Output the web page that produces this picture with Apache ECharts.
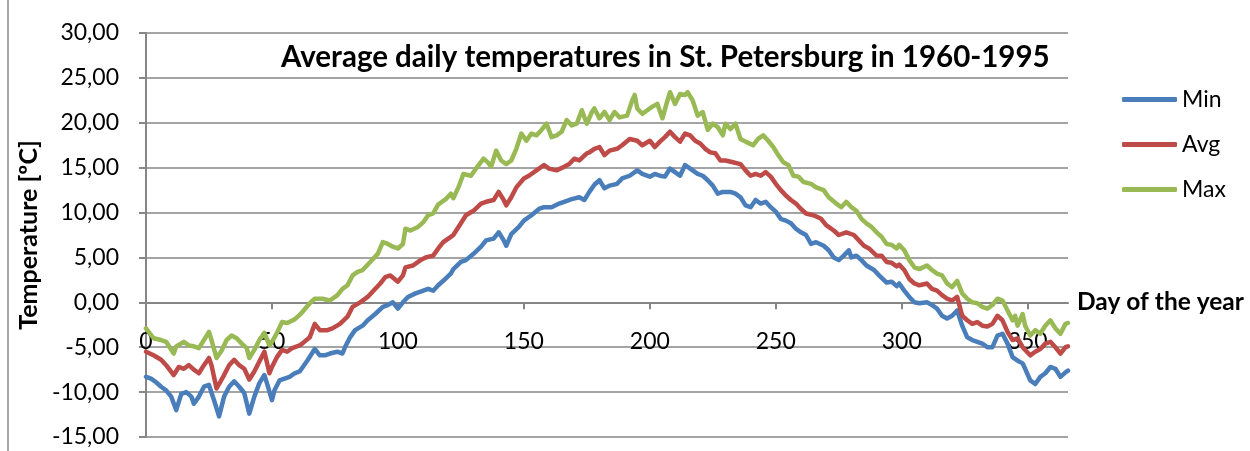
<!DOCTYPE html>
<html>
<head>
<meta charset="utf-8">
<title>Average daily temperatures in St. Petersburg</title>
<script src="https://cdn.jsdelivr.net/npm/echarts@6/dist/echarts.min.js"></script>
<style>
  html, body { margin: 0; padding: 0; background: #fff; }
  #chart { width: 1250px; height: 451px; }
</style>
</head>
<body>
<div id="chart"></div>
<script>
    "use strict";

    // [day, temperature]
    let minTemps = [[0,-8.3],[2,-8.5],[4,-8.9],[6,-9.4],[8,-9.8],[10,-10.5],[12,-12],[14,-10.2],[16,-10],[18,-10.5],[19,-11.3],[21,-10.5],[23,-9.4],[25,-9.2],[27,-10.9],[29,-12.7],[31,-10.5],[33,-9.4],[35,-8.8],[37,-9.4],[39,-10.1],[41,-12.4],[43,-10.5],[45,-9],[47,-8.1],[48,-9],[50,-10.9],[51,-9.8],[53,-8.7],[55,-8.5],[57,-8.3],[59,-7.9],[61,-7.7],[64,-6.5],[67,-5.2],[69,-5.9],[71,-5.9],[73,-5.7],[76,-5.5],[78,-5.7],[79,-5],[81,-3.9],[83,-3.1],[86,-2.6],[88,-2],[91,-1.3],[94,-0.5],[96,-0.3],[98,0],[100,-0.7],[102,0],[104,0.6],[107,1],[109,1.2],[112,1.5],[114,1.3],[116,1.9],[118,2.4],[121,3.2],[122,3.7],[125,4.5],[127,4.7],[130,5.4],[133,6.2],[135,6.9],[138,7.1],[140,7.8],[142,6.9],[143,6.3],[145,7.6],[148,8.4],[150,9.1],[153,9.7],[156,10.4],[158,10.6],[161,10.6],[164,11],[166,11.2],[169,11.5],[172,11.7],[174,11.4],[176,12.3],[178,13.1],[180,13.6],[182,12.7],[184,13],[187,13.2],[189,13.8],[192,14.1],[195,14.7],[197,14.3],[200,14],[202,14.3],[204,14.1],[206,14],[208,14.9],[210,14.5],[212,14.1],[214,15.3],[216,14.9],[219,14.3],[221,14.1],[223,13.6],[225,13],[227,12.1],[229,12.3],[232,12.3],[234,12.1],[236,11.7],[238,10.8],[240,10.6],[242,11.4],[244,11],[246,11.2],[248,10.6],[250,10.1],[252,9.3],[254,9.1],[256,8.8],[258,8.2],[260,7.8],[262,7.5],[264,6.5],[266,6.7],[269,6.3],[271,5.8],[273,5],[275,4.7],[277,5.2],[279,5.8],[280,5],[282,5.2],[284,4.7],[286,4.1],[289,3.6],[291,3],[294,2.2],[296,2.3],[298,1.8],[299,2.1],[301,1.3],[303,0.6],[305,0],[307,-0.1],[310,0],[312,-0.3],[314,-0.7],[316,-1.5],[318,-1.8],[320,-1.5],[322,-0.9],[324,-2.6],[326,-3.9],[328,-4.2],[330,-4.4],[332,-4.6],[334,-5],[336,-5],[338,-3.7],[340,-3.5],[342,-4.6],[344,-6.1],[346,-6.5],[348,-6.8],[349,-7.4],[351,-8.7],[353,-9.1],[355,-8.3],[357,-7.9],[359,-7.2],[361,-7.4],[363,-8.3],[365,-7.8],[366,-7.6]];

    let avgTemps = [[0,-5.5],[3,-5.9],[6,-6.4],[8,-7],[11,-8.1],[13,-7.2],[15,-7.4],[17,-7],[19,-7.5],[21,-7.9],[23,-7],[25,-6.2],[26,-7],[28,-9.6],[31,-8.1],[33,-7],[35,-6.4],[37,-7],[39,-7.4],[41,-8.6],[43,-7.7],[45,-6.6],[47,-5.5],[49,-7.9],[50,-7.2],[52,-6.1],[54,-5.3],[56,-5.5],[58,-5.1],[61,-4.8],[62,-4.6],[65,-3.9],[67,-2.4],[69,-3.1],[72,-3.1],[74,-2.9],[77,-2.4],[80,-1.6],[82,-0.5],[85,0],[88,0.6],[90,1.2],[93,2.1],[95,2.8],[97,3],[100,2.3],[102,3],[103,3.9],[106,4.1],[109,4.7],[111,5],[114,5.2],[116,6],[118,6.7],[121,7.3],[122,7.5],[125,8.8],[127,9.7],[130,10.2],[133,11],[135,11.2],[138,11.4],[140,12.3],[142,11.4],[143,10.8],[145,11.7],[147,12.8],[150,13.8],[152,14.1],[155,14.7],[158,15.3],[160,14.9],[163,14.7],[166,15.1],[168,15.4],[170,16],[172,15.8],[175,16.6],[176,16.7],[178,17.1],[180,17.3],[182,16.4],[184,16.9],[187,17.1],[189,17.5],[192,18.2],[195,18],[197,17.5],[200,18],[202,17.3],[204,17.9],[206,18.4],[208,19],[210,18.4],[212,17.9],[214,18.8],[216,18.6],[218,18],[220,17.7],[222,17.1],[224,16.7],[226,16.6],[228,15.8],[230,15.8],[233,15.6],[236,15.4],[238,14.7],[240,14.1],[242,14.3],[244,14.1],[246,14.5],[248,14],[250,13.2],[252,12.5],[254,11.9],[256,11.4],[258,11],[260,10.4],[262,9.9],[265,9.7],[268,9.3],[270,8.6],[273,8],[275,7.5],[278,7.8],[281,7.5],[283,6.9],[285,6.3],[287,6],[290,5.2],[292,5.2],[294,4.5],[296,4.4],[298,4],[299,4.2],[301,3.6],[303,2.6],[305,2.1],[307,1.9],[310,2.1],[312,1.5],[314,1.3],[316,0.8],[318,0.4],[320,0.2],[322,0.6],[324,-1.5],[326,-2],[328,-2.4],[330,-2.2],[332,-2.6],[334,-2.7],[336,-2.4],[338,-1.5],[340,-2],[342,-3.3],[344,-4.2],[346,-4],[348,-5],[349,-5.3],[351,-5.9],[353,-5.5],[355,-5.2],[357,-4.6],[359,-4.4],[361,-5],[363,-5.7],[365,-5],[366,-4.9]];

    let maxTemps = [[0,-2.9],[3,-4],[6,-4.2],[8,-4.4],[11,-5.7],[12,-4.9],[15,-4.4],[17,-4.8],[19,-4.9],[21,-5.1],[23,-4.2],[25,-3.3],[26,-4.2],[28,-6.2],[30,-5.4],[32,-4.2],[34,-3.7],[36,-4],[38,-4.6],[40,-5.1],[41,-6.2],[43,-5.3],[45,-4.2],[47,-3.4],[49,-4.8],[50,-4.4],[52,-3.4],[54,-2.2],[56,-2.3],[59,-1.9],[61,-1.4],[62,-1.1],[65,-0.1],[67,0.4],[70,0.4],[73,0.2],[76,0.8],[78,1.5],[80,1.9],[82,3],[84,3.4],[86,3.6],[89,4.5],[92,5.4],[94,6.7],[96,6.5],[98,6.2],[100,6],[102,6.5],[103,8.2],[105,8],[108,8.4],[110,8.9],[112,9.7],[114,9.9],[116,10.9],[119,11.5],[121,12.1],[122,11.6],[124,12.8],[126,14.3],[129,14.1],[131,14.9],[134,16],[136,15.5],[137,15.1],[139,16.9],[141,15.8],[143,15.4],[145,15.8],[147,17.1],[149,18.8],[151,18],[153,18.8],[155,18.6],[157,19.2],[159,19.9],[161,18.4],[163,18.6],[165,19],[167,20.3],[169,19.7],[171,19.9],[173,21.4],[175,19.9],[177,21.2],[178,21.6],[180,20.5],[182,21.2],[184,20.3],[186,21.2],[188,20.6],[191,20.8],[193,22.5],[194,23.1],[195,21.6],[197,21],[199,21.4],[201,21.8],[203,22.1],[205,20.5],[207,22.5],[208,23.4],[210,22.1],[212,23.2],[214,23.1],[215,23.4],[217,22.5],[219,20.8],[221,21.2],[223,19.2],[225,19.9],[227,19.5],[229,18.6],[230,19.9],[232,19.3],[234,19.9],[236,18.2],[238,17.9],[241,17.5],[243,18.2],[245,18.6],[247,18],[249,17.3],[251,16.4],[253,15.6],[255,15.3],[257,14.1],[259,14],[261,13.4],[264,13.2],[266,12.8],[269,12.5],[271,11.7],[274,11],[276,10.6],[278,11.2],[280,10.6],[282,10.2],[284,9.3],[286,8.8],[288,8.4],[290,7.8],[292,7.3],[294,6.5],[296,6.4],[298,6],[299,6.4],[301,5.8],[303,4.7],[305,3.9],[307,3.7],[310,4.1],[312,3.6],[314,3.2],[316,3],[318,2.1],[320,1.7],[322,2.4],[324,1],[326,0.4],[328,0],[330,-0.1],[332,-0.5],[334,-0.7],[336,-0.3],[338,0.4],[340,0.2],[342,-0.9],[344,-2],[345,-1.5],[346,-2.6],[348,-1.3],[349,-2.6],[351,-3.7],[353,-3.1],[355,-3.5],[357,-2.6],[359,-2],[361,-2.9],[363,-3.5],[365,-2.4],[366,-2.3]];

    let seriesNames = ['Min', 'Avg', 'Max'];
    let dayTicks = [0, 50, 100, 150, 200, 250, 300, 350];
    let tempMin = -15;
    let tempMax = 30;

    let axisGray = '#868686';
    let font = 'Lato';
    let gridTop = 33;
    let gridBottom = 14;
    let plotHeight = 451 - gridTop - gridBottom;
    // the x axis crosses at 0 °C, so lift it up from the bottom of the grid
    let zeroLift = plotHeight * (0 - tempMin) / (tempMax - tempMin);

    let chart = echarts.init(document.getElementById('chart'), null, {renderer: 'canvas'});

    function lineSeries(name, data, color) {
        return {
            name: name,
            type: 'line',
            data: data,
            showSymbol: false,
            color: color,
            lineStyle: {width: 4.5, color: color, cap: 'round', join: 'round'},
            emphasis: {disabled: true}
        };
    }

    chart.setOption({
        animation: false,
        textStyle: {fontFamily: font},
        title: {
            text: 'Average daily temperatures in St. Petersburg in 1960-1995',
            left: 276,
            top: 37,
            textStyle: {fontFamily: font, fontSize: 29.5, fontWeight: 'bold', color: '#000'}
        },
        legend: {
            data: seriesNames,
            orient: 'vertical',
            left: 1117,
            top: 83,
            itemWidth: 55,
            itemHeight: 5,
            itemGap: 22,
            icon: 'roundRect',
            textStyle: {fontFamily: font, fontSize: 23, color: '#000', lineHeight: 22}
        },
        grid: {left: 146, right: 182, top: gridTop, bottom: gridBottom, containLabel: false, outerBoundsMode: 'none'},
        xAxis: {
            type: 'value',
            position: 'bottom',
            offset: -zeroLift,
            min: 0,
            max: 366,
            interval: 50,
            name: 'Day of the year',
            nameLocation: 'end',
            nameGap: 9,
            nameTextStyle: {fontFamily: font, fontSize: 24.5, fontWeight: 'bold', color: '#000', verticalAlign: 'middle'},
            axisLine: {onZero: false, lineStyle: {color: axisGray, width: 2}},
            axisTick: {show: true, length: 7, customValues: dayTicks, lineStyle: {color: axisGray, width: 2}},
            axisLabel: {customValues: dayTicks, margin: 28, fontFamily: font, fontSize: 23, color: '#000'},
            splitLine: {show: false}
        },
        yAxis: {
            type: 'value',
            min: tempMin,
            max: tempMax,
            interval: 5,
            name: 'Temperature [ºC]',
            nameLocation: 'middle',
            nameRotate: 90,
            nameGap: 104,
            nameTextStyle: {fontFamily: font, fontSize: 25, fontWeight: 'bold', color: '#000'},
            axisLine: {show: true, lineStyle: {color: axisGray, width: 2}},
            axisTick: {show: true, length: 7, lineStyle: {color: axisGray, width: 2}},
            axisLabel: {
                margin: 27,
                fontFamily: font,
                fontSize: 23,
                color: '#000',
                formatter: function (v) { return v.toFixed(2).replace('.', ','); }
            },
            splitLine: {show: true, lineStyle: {color: axisGray, width: 1.5}}
        },
        graphic: [{
            type: 'line',
            shape: {x1: 8, y1: 0, x2: 8, y2: 451},
            style: {stroke: '#8a8a8a', lineWidth: 1.5}
        }],
        series: [
            lineSeries('Min', minTemps, '#4a7ebb'),
            lineSeries('Avg', avgTemps, '#be4b48'),
            lineSeries('Max', maxTemps, '#98b954')
        ]
    });
</script>
</body>
</html>
